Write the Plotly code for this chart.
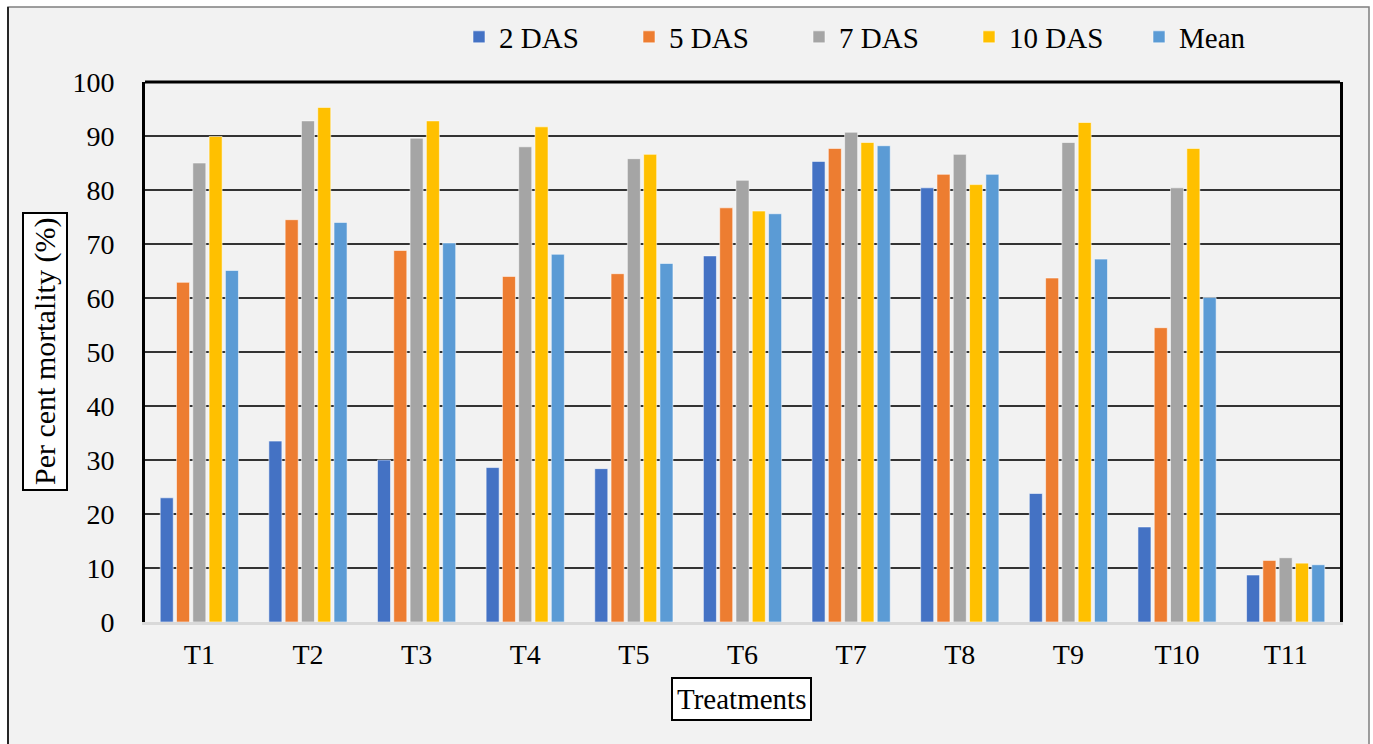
import plotly.graph_objects as go

# Treatments on the category axis
treatments = ["T1", "T2", "T3", "T4", "T5", "T6", "T7", "T8", "T9", "T10", "T11"]

# Per cent mortality recorded at each interval (days after spraying)
das_2 = [23.0, 33.5, 30.0, 28.6, 28.4, 67.8, 85.3, 80.4, 23.8, 17.6, 8.7]
das_5 = [62.9, 74.5, 68.8, 64.0, 64.5, 76.7, 87.7, 82.9, 63.7, 54.5, 11.4]
das_7 = [85.0, 92.8, 89.6, 88.0, 85.8, 81.8, 90.7, 86.6, 88.8, 80.4, 11.9]
das_10 = [89.9, 95.3, 92.8, 91.7, 86.6, 76.1, 88.8, 81.0, 92.5, 87.7, 10.9]
mean = [65.1, 74.0, 70.2, 68.1, 66.4, 75.6, 88.2, 82.9, 67.2, 60.1, 10.6]

series = [
    ("2 DAS", das_2, "#4472C4"),
    ("5 DAS", das_5, "#ED7D31"),
    ("7 DAS", das_7, "#A5A5A5"),
    ("10 DAS", das_10, "#FFC000"),
    ("Mean", mean, "#5B9BD5"),
]

W, H = 1373, 744
ML, MR, MT, MB = 145, 33, 82, 122
PW, PH = W - ML - MR, H - MT - MB


def px_x(p):
    return (p - ML) / PW


def px_y(p):
    return (H - MB - p) / PH


FONT = "Liberation Serif"

fig = go.Figure()
for name, vals, color in series:
    fig.add_trace(go.Bar(
        x=treatments, y=vals, name=name,
        marker=dict(color=color, line=dict(color="rgba(255,255,255,0.55)", width=1)),
    ))

fig.update_layout(
    width=W, height=H, autosize=False,
    margin=dict(l=ML, r=MR, t=MT, b=MB, pad=0, autoexpand=False),
    paper_bgcolor="white",
    plot_bgcolor="rgba(0,0,0,0)",
    font=dict(family=FONT, size=28, color="black"),
    barmode="group",
    bargap=0.25,
    bargroupgap=0.2,
    showlegend=True,
    legend=dict(
        orientation="h",
        xref="container", yref="container",
        x=459 / W, xanchor="left",
        y=1 - 37 / H, yanchor="middle",
        entrywidth=125, entrywidthmode="pixels",
        bgcolor="rgba(0,0,0,0)",
        font=dict(family=FONT, size=29, color="black"),
        traceorder="normal",
    ),
    xaxis=dict(
        showgrid=False,
        showline=True, linecolor="#d9d9d9", linewidth=3,
        ticks="", ticklabelstandoff=5,
        tickfont=dict(family=FONT, size=28, color="black"),
    ),
    yaxis=dict(
        range=[0, 100], dtick=10, tick0=0,
        showgrid=True, gridcolor="#333333", gridwidth=1.6,
        zeroline=False,
        showline=True, linecolor="black", linewidth=3, mirror=True,
        ticks="", ticklabelstandoff=22,
        tickfont=dict(family=FONT, size=28, color="black"),
    ),
    shapes=[
        # chart area background and frame
        dict(type="rect", xref="paper", yref="paper", layer="below",
             x0=px_x(8), x1=px_x(1369), y0=px_y(760), y1=px_y(7),
             fillcolor="#f2f2f2", line=dict(color="#7f7f7f", width=1.5)),
        dict(type="line", xref="paper", yref="paper", layer="below",
             x0=px_x(8), x1=px_x(8), y0=px_y(760), y1=px_y(7),
             line=dict(color="#262626", width=2)),
        # top border of the plotting area
        dict(type="line", xref="paper", yref="paper",
             x0=0, x1=1, y0=1, y1=1, line=dict(color="black", width=3)),
    ],
    annotations=[
        dict(text="Per cent mortality (%)", textangle=-90,
             xref="paper", yref="paper", x=px_x(45), y=px_y(352),
             xanchor="center", yanchor="middle", showarrow=False,
             font=dict(family=FONT, size=30, color="black"),
             bordercolor="black", borderwidth=2, borderpad=4, bgcolor="white"),
        dict(text="Treatments",
             xref="paper", yref="paper", x=px_x(741), y=px_y(699),
             xanchor="center", yanchor="middle", showarrow=False,
             font=dict(family=FONT, size=29, color="black"),
             bordercolor="black", borderwidth=2, borderpad=4, bgcolor="white"),
    ],
)

fig.write_html("out.html")
